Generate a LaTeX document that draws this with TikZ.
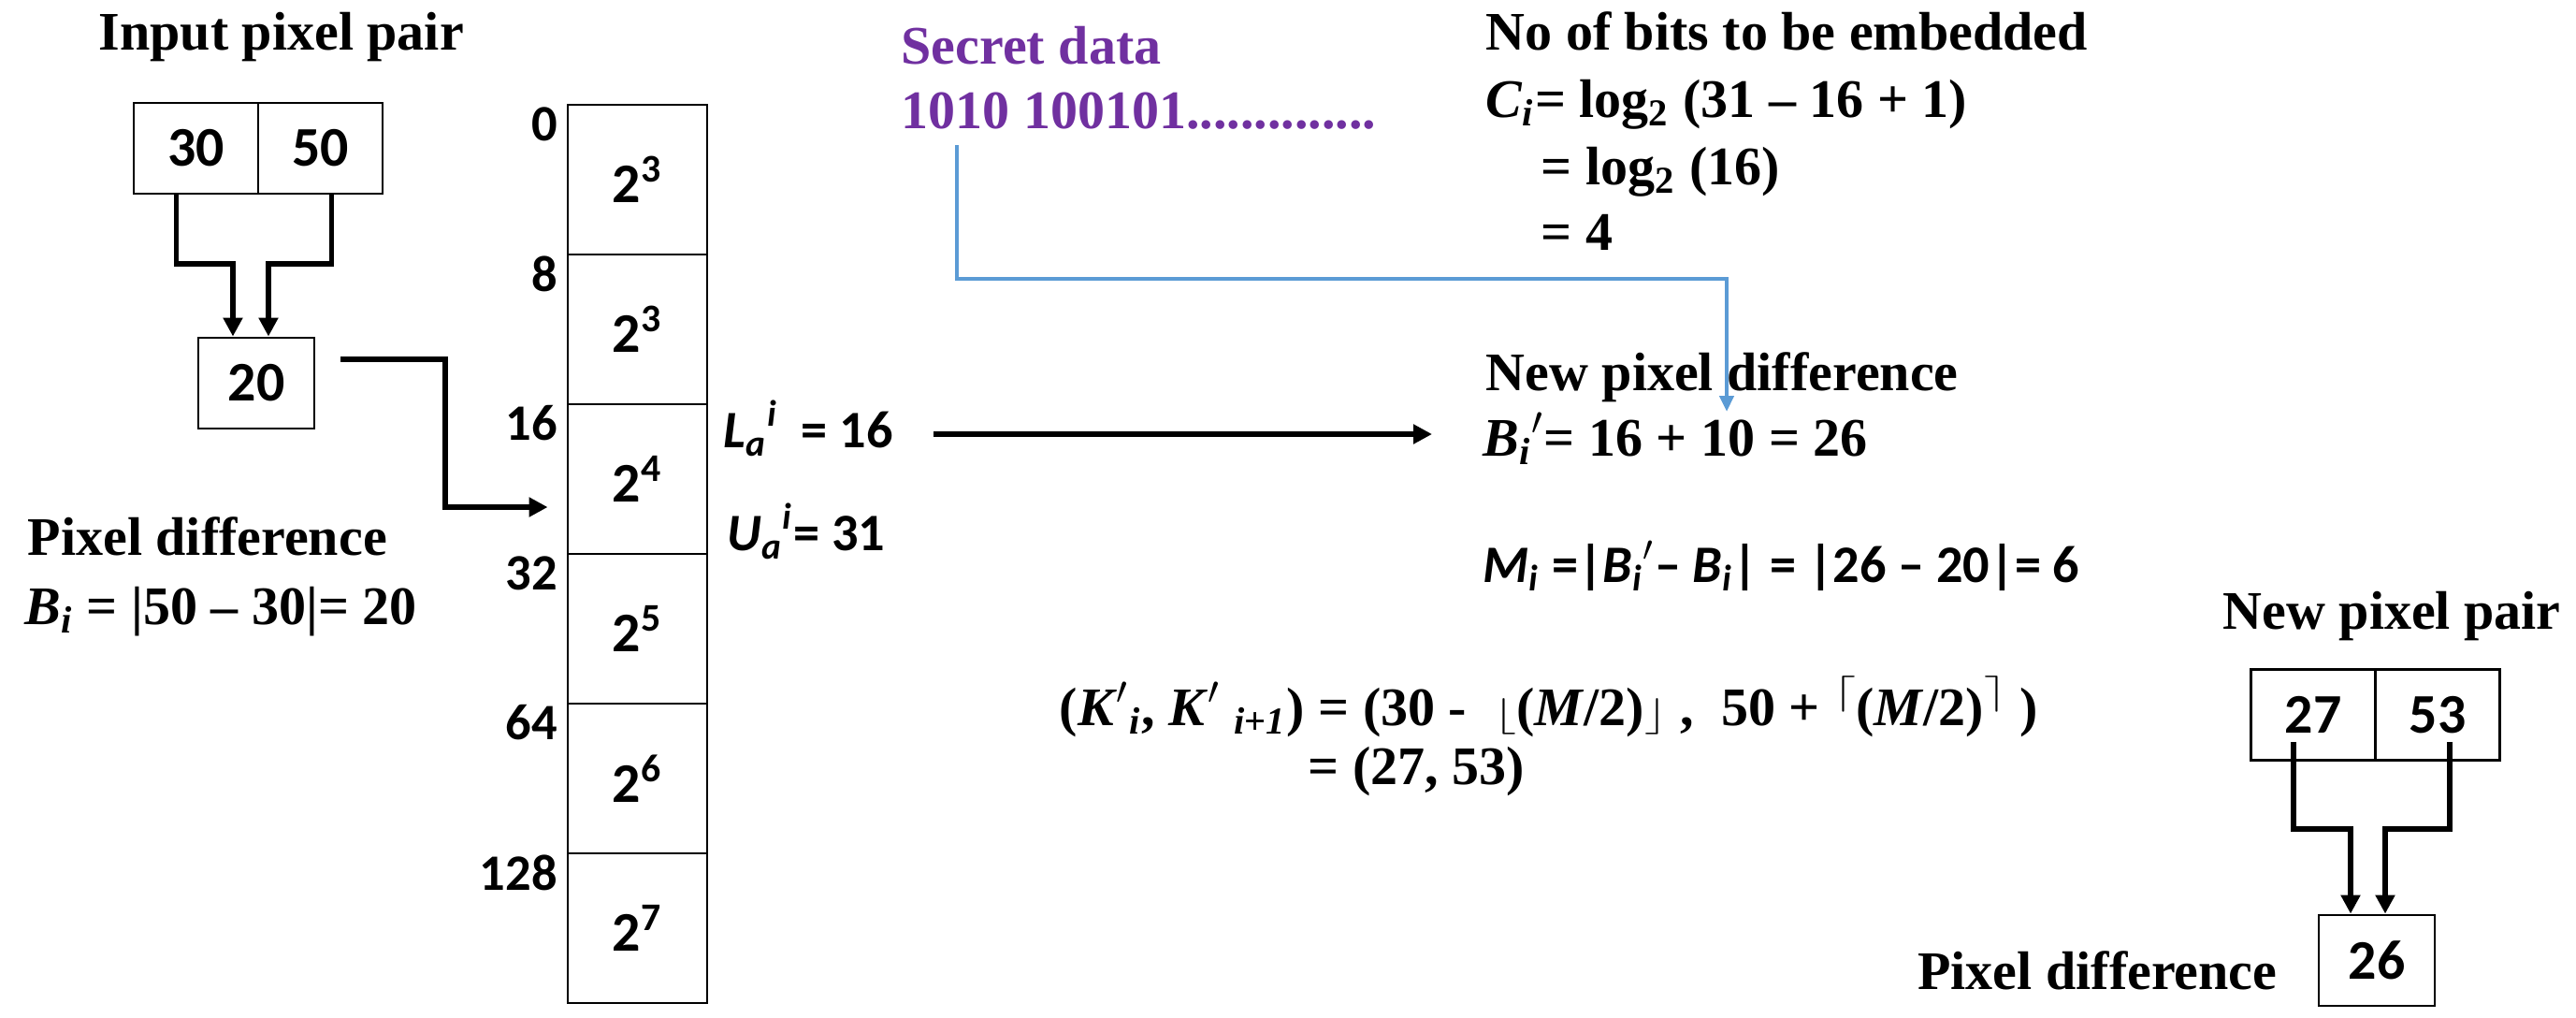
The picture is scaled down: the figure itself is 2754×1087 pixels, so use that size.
\documentclass[tikz,border=0pt]{standalone}
\usepackage{fontspec}
\usepackage{graphicx}
\setmainfont{Liberation Serif}
\newfontfamily\calibri{Carlito}
\usetikzlibrary{arrows.meta,calc}

\definecolor{secret}{HTML}{7030A0}
\definecolor{flow}{HTML}{5B9BD5}
% sub- and superscript one after the other
\newcommand{\subsup}[2]{\textsubscript{#1}\textsuperscript{#2}}
\newcommand{\flr}{\scalebox{1.4}[1]{\fontsize{11}{11}\selectfont$\lfloor$}}
\newcommand{\frr}{\scalebox{1.4}[1]{\fontsize{11}{11}\selectfont$\rfloor$}}
\newcommand{\clr}{\raisebox{0.4em}{\scalebox{1.4}[1]{\fontsize{11}{11}\selectfont$\lceil$}}}
\newcommand{\crr}{\raisebox{0.4em}{\scalebox{1.4}[1]{\fontsize{11}{11}\selectfont$\rceil$}}}

\begin{document}
\begin{tikzpicture}[x=0.01cm, y=-0.01cm,
    txt/.style={inner sep=0pt, anchor=base west, font=\bfseries\fontsize{16.5}{20}\selectfont},
    ctxt/.style={inner sep=0pt, anchor=base west, font=\calibri\bfseries\fontsize{16}{20}\selectfont},
    box/.style={draw, line width=0.8pt, inner sep=0pt, font=\calibri\bfseries\fontsize{17}{20}\selectfont},
    pix/.style={box, minimum width=1.33cm, minimum height=0.97cm},
    dif/.style={box, minimum width=1.24cm, minimum height=0.97cm},
    rng/.style={box, minimum width=1.49cm, minimum height=1.6cm},
    bnd/.style={inner sep=0pt, anchor=east, font=\calibri\bfseries\fontsize{15.5}{18}\selectfont},
    arr/.style={-{Triangle[length=0.2cm,width=0.2cm]}, line width=1.7pt},
    barr/.style={-{Triangle[length=0.17cm,width=0.15cm]}, line width=1.2pt, flow}
]
\useasboundingbox (0,0) rectangle (2754,1087);

% input pair
\node[txt] (intitle) at (105,53) {Input pixel pair};
\node[pix] (p30) at (209.5,158.5) {30};
\node[pix] (p50) at (342.5,158.5) {50};
\node[dif] (d20) at (274,409.5) {20};
\draw[arr] ($(p30.south)+(-21,0)$) |- ($(d20.north)+(-25,-78)$) -- ($(d20.north)+(-25,0)$);
\draw[arr] ($(p50.south)+(12,0)$) |- ($(d20.north)+(13,-78)$) -- ($(d20.north)+(13,0)$);
\node[txt] (pdl) at (29,593) {Pixel difference};
\node[txt] (bi) at (26,667) {\textit{B}\textsubscript{\textit{i}} = |50 – 30|= 20};

% range table
\foreach \e [count=\k from 0] in {3,3,4,5,6,7}
  \node[rng] (r\k) at (681.5,192+160*\k) {2\textsuperscript{\e}};
\foreach \v [count=\k from 0] in {0,8,16,32,64,128}
  \node[bnd] (b\k) at ($(r\k.north west)+(-9,22)$) {\v};
\draw[arr] ($(d20.east)+(27,-26)$) -- ++(112,0) |- ($(r2.west)+(-20,30)$);

\node[ctxt] (la) at (773,478) {\textit{L}\subsup{\textit{a}}{\textit{i}}\ \ = 16};
\node[ctxt] (ua) at (777,588) {\textit{U}\subsup{\textit{a}}{\textit{i}}= 31};

% secret data and capacity
\node[txt, text=secret] (sec) at (963,68) {Secret data};
\node[txt, text=secret] (bits) at (963,137) {1010 100101..............};
\node[txt] (nob) at (1588,53) {No of bits to be embedded};
\node[txt] (ci) at (1588,125) {\textit{C}\textsubscript{\textit{i}}= log\textsubscript{2} (31 – 16 + 1)};
\node[txt] (ci2) at (1647,197) {= log\textsubscript{2} (16)};
\node[txt] (ci3) at (1647,267) {= 4};

% new difference
\node[txt] (npd) at (1588,417) {New pixel difference};
\node[txt] (bnew) at (1585,487) {\textit{B}\textsubscript{\textit{i}}$'$= 16 + 10 = 26};
\node[ctxt] (mi) at (1585,622) {\textit{M}\textsubscript{\textit{i}} =|\textit{B}\textsubscript{\textit{i}}$'$– \textit{B}\textsubscript{\textit{i}}| = |26 – 20|= 6};
\node[txt] (kk) at (1132,775) {(\textit{K}$'$\textsubscript{\textit{i}}, \textit{K}$'$ \textsubscript{\textit{i}+\textit{1}}) = (30 -\ \ \flr(\textit{M}/2)\frr\ ,\ \ 50 + \clr(\textit{M}/2)\crr\ )};
\node[txt] (kk2) at (1398,838) {= (27, 53)};
\draw[arr] ($(la.base east)+(43,-14)$) -- ($(bnew.base west)+(-54,-23)$);
\draw[barr] ($(bits.base west)+(60,18)$) |- ($(npd.base west)+(258,-119)$) -- ($(npd.base west)+(258,23)$);

% new pair
\node[txt] (nptitle) at (2376,672) {New pixel pair};
\node[pix] (p27) at (2473,764) {27};
\node[pix] (p53) at (2606,764) {53};
\node[dif] (d26) at (2541,1026.5) {26};
\draw[arr] ($(p27.south)+(-21,-21)$) |- ($(d26.north)+(-28,-91)$) -- ($(d26.north)+(-28,0)$);
\draw[arr] ($(p53.south)+(13,-21)$) |- ($(d26.north)+(9,-91)$) -- ($(d26.north)+(9,0)$);
\node[txt, anchor=base east] (pdr) at (2435,1057) {Pixel difference};
\end{tikzpicture}
\end{document}
